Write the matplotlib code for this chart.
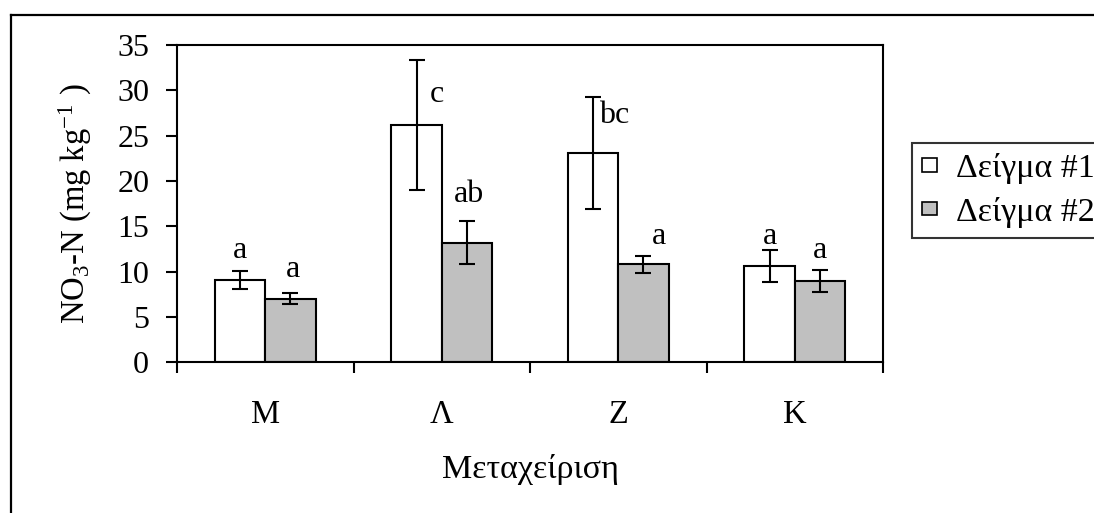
import matplotlib
matplotlib.use("Agg")
import matplotlib.pyplot as plt
from matplotlib.patches import Patch
from matplotlib.lines import Line2D
import numpy as np

plt.rcParams['font.family'] = ['Liberation Serif', 'DejaVu Serif']
plt.rcParams['mathtext.fontset'] = 'custom'
plt.rcParams['mathtext.rm'] = 'Liberation Serif'
plt.rcParams['mathtext.it'] = 'Liberation Serif:italic'

categories = ['Μ', 'Λ', 'Ζ', 'Κ']
series_names = ['Δείγμα #1', 'Δείγμα #2']
sample1 = [9.1, 26.2, 23.1, 10.6]
sample1_err = [1.0, 7.2, 6.2, 1.75]
sample2 = [7.0, 13.2, 10.8, 9.0]
sample2_err = [0.6, 2.4, 0.95, 1.2]
# significance letters with their baseline heights
letters1 = ['a', 'c', 'bc', 'a']
letters1_y = [11.5, 28.7, 26.4, 13.1]
letters1_dx = [0.0, 0.115, 0.12, 0.0]
letters2 = ['a', 'ab', 'a', 'a']
letters2_y = [9.45, 17.7, 13.1, 11.5]
letters2_dx = [0.015, 0.013, 0.09, 0.0]

fig = plt.figure(figsize=(10.94, 5.13), dpi=100)
ax = fig.add_axes([177/1094, 1-362.3/513, (883-177)/1094, (362.3-45)/513])

x = np.arange(len(categories))
w = 0.286
lw = 1.5
ax.bar(x - w/2, sample1, w, color='white', edgecolor='black', linewidth=lw, zorder=2)
ax.bar(x + w/2, sample2, w, color='#C0C0C0', edgecolor='black', linewidth=lw, zorder=2)
ax.errorbar(x - w/2, sample1, yerr=sample1_err, fmt='none', ecolor='black',
            elinewidth=1.5, capsize=5.5, capthick=1.5, zorder=3)
ax.errorbar(x + w/2, sample2, yerr=sample2_err, fmt='none', ecolor='black',
            elinewidth=1.5, capsize=5.5, capthick=1.5, zorder=3)

fs = 23
for i in range(len(categories)):
    ax.text(x[i] - w/2 + letters1_dx[i], letters1_y[i], letters1[i], ha='center',
            va='baseline', fontsize=fs)
    ax.text(x[i] + w/2 + letters2_dx[i], letters2_y[i], letters2[i], ha='center',
            va='baseline', fontsize=fs)

ax.set_xlim(-0.5, len(categories) - 0.5)
ax.set_ylim(0, 35)
ax.set_yticks(np.arange(0, 36, 5))
ax.set_xticks(np.arange(-0.5, len(categories), 1.0))
ax.set_xticklabels([])
ax.set_xticks(x, minor=True)
ax.set_xticklabels(categories, minor=True, fontsize=23.5)
ax.tick_params(axis='x', which='major', direction='out', length=8, width=1.5)
ax.tick_params(axis='x', which='minor', length=0, pad=27)
ax.tick_params(axis='y', direction='out', length=8, width=1.5, pad=12, labelsize=fs)
for s in ax.spines.values():
    s.set_linewidth(1.5)

ax.set_xlabel('Μεταχείριση', fontsize=24.5)
ax.xaxis.set_label_coords(0.5, -0.29)
ax.set_ylabel(r'NO$_3$-N (mg kg$^{-1}$ )', fontsize=23.5)
ax.yaxis.set_label_coords(-0.118, 0.5)

handles = [Patch(facecolor='white', edgecolor='black', linewidth=1.2),
           Patch(facecolor='#C0C0C0', edgecolor='black', linewidth=1.2)]
leg = fig.legend(handles, series_names, loc='upper left',
                 bbox_to_anchor=(912/1094, 1-143/513), fontsize=24.5, frameon=True,
                 fancybox=False, edgecolor='black', handlelength=0.42,
                 handleheight=0.25, handletextpad=0.56, borderpad=0.3,
                 labelspacing=0.37, borderaxespad=0)
leg.get_frame().set_linewidth(1.5)

# outer chart frame
fig.add_artist(Line2D([11/1094, 11/1094], [-0.1, 1-15/513], color='black',
                      linewidth=1.6, transform=fig.transFigure))
fig.add_artist(Line2D([11/1094, 1.1], [1-15/513, 1-15/513], color='black',
                      linewidth=1.6, transform=fig.transFigure))

fig.savefig('out.png', dpi=100)
